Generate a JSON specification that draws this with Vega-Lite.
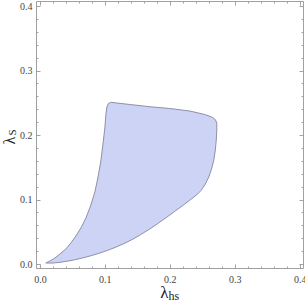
{
  "$schema": "https://vega.github.io/schema/vega-lite/v6.json",
  "width": 267,
  "height": 267,
  "autosize": {"type": "none"},
  "padding": {"left": 36, "top": 1, "right": 2, "bottom": 35},
  "background": "white",
  "config": {
    "view": {"stroke": null},
    "axis": {
      "domainColor": "#a0a0a0",
      "domainWidth": 1,
      "tickColor": "#8a8a8a",
      "tickWidth": 0.8,
      "grid": false,
      "labelFont": "Liberation Serif",
      "labelFontSize": 10,
      "labelColor": "#444444",
      "titleFont": "Liberation Serif",
      "titleFontWeight": "normal",
      "titleColor": "#222222"
    }
  },
  "data": {
    "values": [
      {"i": 0, "lhs": 0.0092, "ls": 0.0016},
      {"i": 1, "lhs": 0.0154, "ls": 0.0047},
      {"i": 2, "lhs": 0.0231, "ls": 0.0093},
      {"i": 3, "lhs": 0.0308, "ls": 0.0155},
      {"i": 4, "lhs": 0.040, "ls": 0.0233},
      {"i": 5, "lhs": 0.0477, "ls": 0.0326},
      {"i": 6, "lhs": 0.0554, "ls": 0.0434},
      {"i": 7, "lhs": 0.0631, "ls": 0.0558},
      {"i": 8, "lhs": 0.0708, "ls": 0.0713},
      {"i": 9, "lhs": 0.0785, "ls": 0.0915},
      {"i": 10, "lhs": 0.0846, "ls": 0.1116},
      {"i": 11, "lhs": 0.0892, "ls": 0.1333},
      {"i": 12, "lhs": 0.0938, "ls": 0.1597},
      {"i": 13, "lhs": 0.0969, "ls": 0.1845},
      {"i": 14, "lhs": 0.100, "ls": 0.2109},
      {"i": 15, "lhs": 0.1015, "ls": 0.231},
      {"i": 16, "lhs": 0.1031, "ls": 0.2434},
      {"i": 17, "lhs": 0.1054, "ls": 0.2488},
      {"i": 18, "lhs": 0.1092, "ls": 0.2507},
      {"i": 19, "lhs": 0.1385, "ls": 0.2473},
      {"i": 20, "lhs": 0.1692, "ls": 0.2439},
      {"i": 21, "lhs": 0.200, "ls": 0.2411},
      {"i": 22, "lhs": 0.2308, "ls": 0.2372},
      {"i": 23, "lhs": 0.2538, "ls": 0.2318},
      {"i": 24, "lhs": 0.2646, "ls": 0.2279},
      {"i": 25, "lhs": 0.270, "ls": 0.224},
      {"i": 26, "lhs": 0.2723, "ls": 0.2186},
      {"i": 27, "lhs": 0.2723, "ls": 0.2078},
      {"i": 28, "lhs": 0.2715, "ls": 0.1922},
      {"i": 29, "lhs": 0.270, "ls": 0.1767},
      {"i": 30, "lhs": 0.2677, "ls": 0.1612},
      {"i": 31, "lhs": 0.2646, "ls": 0.1488},
      {"i": 32, "lhs": 0.260, "ls": 0.1349},
      {"i": 33, "lhs": 0.2538, "ls": 0.1225},
      {"i": 34, "lhs": 0.2477, "ls": 0.1135},
      {"i": 35, "lhs": 0.2415, "ls": 0.1075},
      {"i": 36, "lhs": 0.2308, "ls": 0.0990},
      {"i": 37, "lhs": 0.220, "ls": 0.0908},
      {"i": 38, "lhs": 0.2077, "ls": 0.0817},
      {"i": 39, "lhs": 0.1954, "ls": 0.0727},
      {"i": 40, "lhs": 0.1815, "ls": 0.0628},
      {"i": 41, "lhs": 0.1692, "ls": 0.0543},
      {"i": 42, "lhs": 0.1554, "ls": 0.0458},
      {"i": 43, "lhs": 0.1431, "ls": 0.0385},
      {"i": 44, "lhs": 0.1308, "ls": 0.0323},
      {"i": 45, "lhs": 0.1185, "ls": 0.0268},
      {"i": 46, "lhs": 0.1046, "ls": 0.0213},
      {"i": 47, "lhs": 0.0923, "ls": 0.0170},
      {"i": 48, "lhs": 0.0785, "ls": 0.0128},
      {"i": 49, "lhs": 0.0662, "ls": 0.0095},
      {"i": 50, "lhs": 0.0538, "ls": 0.0066},
      {"i": 51, "lhs": 0.0415, "ls": 0.0042},
      {"i": 52, "lhs": 0.0292, "ls": 0.0024},
      {"i": 53, "lhs": 0.0185, "ls": 0.0014},
      {"i": 54, "lhs": 0.0092, "ls": 0.0016}
    ]
  },
  "layer": [
    {
      "mark": {"type": "line", "fill": "#ccd3f5", "stroke": "#8e90a8", "strokeWidth": 1, "interpolate": "linear"},
      "encoding": {
        "x": {
          "field": "lhs", "type": "quantitative",
          "scale": {"domain": [-0.006, 0.405], "nice": false, "zero": false},
          "axis": {
            "orient": "bottom",
            "values": [0, 0.02, 0.04, 0.06, 0.08, 0.1, 0.12, 0.14, 0.16, 0.18, 0.2, 0.22, 0.24, 0.26, 0.28, 0.3, 0.32, 0.34, 0.36, 0.38, 0.4],
            "labelExpr": "abs(datum.value*10 - round(datum.value*10)) < 0.000001 ? format(datum.value, '.1f') : ''",
            "tickSize": {"condition": {"test": "abs(datum.value*10 - round(datum.value*10)) < 0.000001", "value": -4}, "value": -2},
            "labelPadding": 10,
            "labelFlush": false,
            "labelOverlap": false,
            "title": "λ",
            "titleFontSize": 17,
            "titleAlign": "right",
            "titleBaseline": "alphabetic",
            "titleX": 132,
            "titleY": 29
          }
        },
        "y": {
          "field": "ls", "type": "quantitative",
          "scale": {"domain": [-0.0062, 0.4078], "nice": false, "zero": false},
          "axis": {
            "orient": "left",
            "values": [0, 0.02, 0.04, 0.06, 0.08, 0.1, 0.12, 0.14, 0.16, 0.18, 0.2, 0.22, 0.24, 0.26, 0.28, 0.3, 0.32, 0.34, 0.36, 0.38, 0.4],
            "labelExpr": "abs(datum.value*10 - round(datum.value*10)) < 0.000001 ? format(datum.value, '.1f') : ''",
            "tickSize": {"condition": {"test": "abs(datum.value*10 - round(datum.value*10)) < 0.000001", "value": -4}, "value": -2},
            "labelPadding": 8,
            "labelFlush": false,
            "labelOverlap": false,
            "title": "λ",
            "titleFontSize": 16,
            "titleAngle": -90,
            "titleAlign": "left",
            "titleBaseline": "alphabetic",
            "titleX": -22,
            "titleY": 143
          }
        },
        "order": {"field": "i", "type": "quantitative"}
      }
    },
    {
      "mark": {"type": "point", "opacity": 0},
      "encoding": {
        "x": {
          "field": "lhs", "type": "quantitative",
          "axis": {
            "orient": "top",
            "values": [0, 0.02, 0.04, 0.06, 0.08, 0.1, 0.12, 0.14, 0.16, 0.18, 0.2, 0.22, 0.24, 0.26, 0.28, 0.3, 0.32, 0.34, 0.36, 0.38, 0.4],
            "labels": false,
            "tickSize": {"condition": {"test": "abs(datum.value*10 - round(datum.value*10)) < 0.000001", "value": -4}, "value": -2},
            "title": null
          }
        },
        "y": {
          "field": "ls", "type": "quantitative",
          "axis": {
            "orient": "right",
            "values": [0, 0.02, 0.04, 0.06, 0.08, 0.1, 0.12, 0.14, 0.16, 0.18, 0.2, 0.22, 0.24, 0.26, 0.28, 0.3, 0.32, 0.34, 0.36, 0.38, 0.4],
            "labels": false,
            "tickSize": {"condition": {"test": "abs(datum.value*10 - round(datum.value*10)) < 0.000001", "value": -4}, "value": -2},
            "title": null
          }
        }
      }
    },
    {
      "mark": {"type": "point", "opacity": 0},
      "encoding": {
        "x": {
          "field": "lhs", "type": "quantitative",
          "axis": {
            "orient": "bottom",
            "values": [],
            "domain": false,
            "ticks": false,
            "labels": false,
            "title": "hs",
            "titleFontSize": 12,
            "titleAlign": "left",
            "titleBaseline": "alphabetic",
            "titleX": 132,
            "titleY": 31
          }
        },
        "y": {
          "field": "ls", "type": "quantitative",
          "axis": {
            "orient": "left",
            "values": [],
            "domain": false,
            "ticks": false,
            "labels": false,
            "title": "S",
            "titleFontSize": 11,
            "titleAngle": -90,
            "titleAlign": "left",
            "titleBaseline": "alphabetic",
            "titleX": -21,
            "titleY": 134
          }
        }
      }
    }
  ],
  "resolve": {"axis": {"x": "independent", "y": "independent"}}
}
